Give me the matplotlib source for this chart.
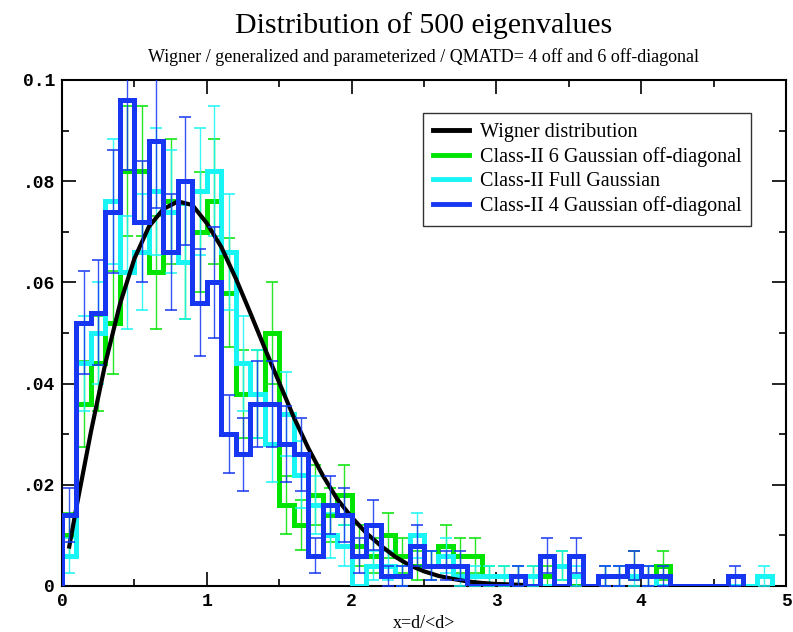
import numpy as np
import matplotlib
matplotlib.use("Agg")
import matplotlib.pyplot as plt
from matplotlib.ticker import FixedLocator, MultipleLocator

# histogram bins of width 0.1 from 0 to 5 (fraction of 500 eigenvalues)
bin_edges = [round(0.1 * i, 1) for i in range(51)]

green_6off = [0.010, 0.036, 0.044, 0.052, 0.082, 0.082, 0.062, 0.076, 0.064, 0.070,
              0.076, 0.058, 0.038, 0.038, 0.050, 0.016, 0.012, 0.018, 0.014, 0.018,
              0.008, 0.006, 0.010, 0.006, 0.004, 0.004, 0.008, 0.006, 0.006, 0.002,
              0.002, 0.002, 0.002, 0.002, 0.004, 0.000, 0.000, 0.002, 0.002, 0.004,
              0.002, 0.004]

cyan_full = [0.006, 0.044, 0.050, 0.076, 0.062, 0.066, 0.078, 0.074, 0.064, 0.078,
             0.082, 0.066, 0.044, 0.038, 0.028, 0.034, 0.022, 0.016, 0.010, 0.008,
             0.000, 0.004, 0.004, 0.002, 0.010, 0.004, 0.006, 0.002, 0.002, 0.002,
             0.002, 0.002, 0.002, 0.000, 0.004, 0.002, 0.000, 0.002, 0.002, 0.002,
             0.002, 0.000, 0.000, 0.000, 0.000, 0.000, 0.000, 0.000, 0.002]

blue_4off = [0.014, 0.052, 0.054, 0.074, 0.096, 0.072, 0.088, 0.066, 0.080, 0.056,
             0.060, 0.030, 0.026, 0.036, 0.036, 0.028, 0.026, 0.006, 0.016, 0.014,
             0.006, 0.012, 0.002, 0.002, 0.008, 0.004, 0.004, 0.004, 0.000, 0.000,
             0.000, 0.002, 0.000, 0.006, 0.000, 0.006, 0.000, 0.002, 0.002, 0.004,
             0.002, 0.002, 0.000, 0.000, 0.000, 0.000, 0.002]

# Wigner curve
wigner_x = [0.05, 0.1, 0.2, 0.3, 0.4, 0.5, 0.6, 0.7, 0.8, 0.9, 1.0, 1.1, 1.2, 1.3,
            1.4, 1.5, 1.6, 1.7, 1.8, 1.9, 2.0, 2.1, 2.2, 2.3, 2.4, 2.5, 2.6, 2.7,
            2.8, 2.9, 3.0, 3.1, 3.2]
wigner_y = [0.0078, 0.0156, 0.0305, 0.0441, 0.0557, 0.0647, 0.0710, 0.0745, 0.0760,
            0.0753, 0.0717, 0.0670, 0.0608, 0.0540, 0.0470, 0.0402, 0.0334, 0.0273,
            0.0219, 0.0172, 0.0136, 0.0105, 0.0080, 0.0058, 0.0041, 0.0029, 0.0020,
            0.0014, 0.0009, 0.0006, 0.0004, 0.0003, 0.0002]

n_eig = 500
ytick_vals = [0, 0.02, 0.04, 0.06, 0.08, 0.1]
ytick_labels = ["0", ".02", ".04", ".06", ".08", "0.1"]
xtick_vals = [0, 1, 2, 3, 4, 5]

series = [
    ("Class-II 6 Gaussian off-diagonal", green_6off, "#00e400"),
    ("Class-II Full Gaussian", cyan_full, "#19f5f5"),
    ("Class-II 4 Gaussian off-diagonal", blue_4off, "#1636f2"),
]

serif = ["Liberation Serif", "DejaVu Serif"]
mono = ["Liberation Mono", "DejaVu Sans Mono"]

fig = plt.figure(figsize=(7.93, 6.32), dpi=100)
ax = fig.add_axes([62 / 793, 46 / 632, 724 / 793, 506 / 632])


def draw_hist(vals, color, z):
    vals = np.array(vals)
    edges = np.array(bin_edges[:len(vals) + 1])
    ax.stairs(vals, edges, baseline=0, color=color, lw=3.6, zorder=z)
    centers = (edges[:-1] + edges[1:]) / 2
    m = vals > 0
    err = np.sqrt(vals * n_eig) / n_eig
    ax.errorbar(centers[m], vals[m], yerr=err[m], fmt="none", ecolor=color,
                elinewidth=1.0, capsize=4.6, capthick=1.3, alpha=0.85, zorder=z)


draw_hist(green_6off, series[0][2], 2)
draw_hist(cyan_full, series[1][2], 3)
ax.plot(wigner_x, wigner_y, color="black", lw=3.0, zorder=4)
draw_hist(blue_4off, series[2][2], 5)

ax.set_xlim(0, 5)
ax.set_ylim(0, 0.1)
ax.xaxis.set_major_locator(FixedLocator(xtick_vals))
ax.xaxis.set_minor_locator(MultipleLocator(0.5))
ax.yaxis.set_major_locator(FixedLocator(ytick_vals))
ax.yaxis.set_minor_locator(MultipleLocator(0.01))
ax.set_yticklabels(ytick_labels)
ax.set_xticklabels([str(v) for v in xtick_vals])
ax.tick_params(which="both", direction="in", top=True, right=True, width=1.2)
ax.tick_params(which="major", length=10, pad=5)
ax.tick_params(which="minor", length=5)
for lab in ax.get_xticklabels() + ax.get_yticklabels():
    lab.set_family(mono)
    lab.set_fontweight("bold")
    lab.set_fontsize(13)
for sp in ax.spines.values():
    sp.set_linewidth(1.5)

ax.set_xlabel("x=d/<d>", family=serif, fontsize=13, labelpad=4)

fig.text(424 / 793, 1 - 26 / 632, "Distribution of 500 eigenvalues",
         family=serif, fontsize=21.5, ha="center", va="center")
fig.text(424 / 793, 1 - 57 / 632,
         "Wigner / generalized and parameterized / QMATD= 4 off and 6 off-diagonal",
         family=serif, fontsize=13, ha="center", va="center")

handles = [plt.Line2D([], [], color="black", lw=3.5)]
labels = ["Wigner distribution"]
for name, _, col in series:
    handles.append(plt.Line2D([], [], color=col, lw=3.5))
    labels.append(name)
leg = ax.legend(handles, labels, loc="upper right", bbox_to_anchor=(0.952, 0.935),
                borderaxespad=0, prop={"family": serif, "size": 14.5},
                frameon=True, fancybox=False, edgecolor="black",
                handlelength=1.8, handletextpad=0.5, labelspacing=0.25,
                borderpad=0.5)
leg.get_frame().set_linewidth(1.0)

fig.savefig("out.png", dpi=100)
